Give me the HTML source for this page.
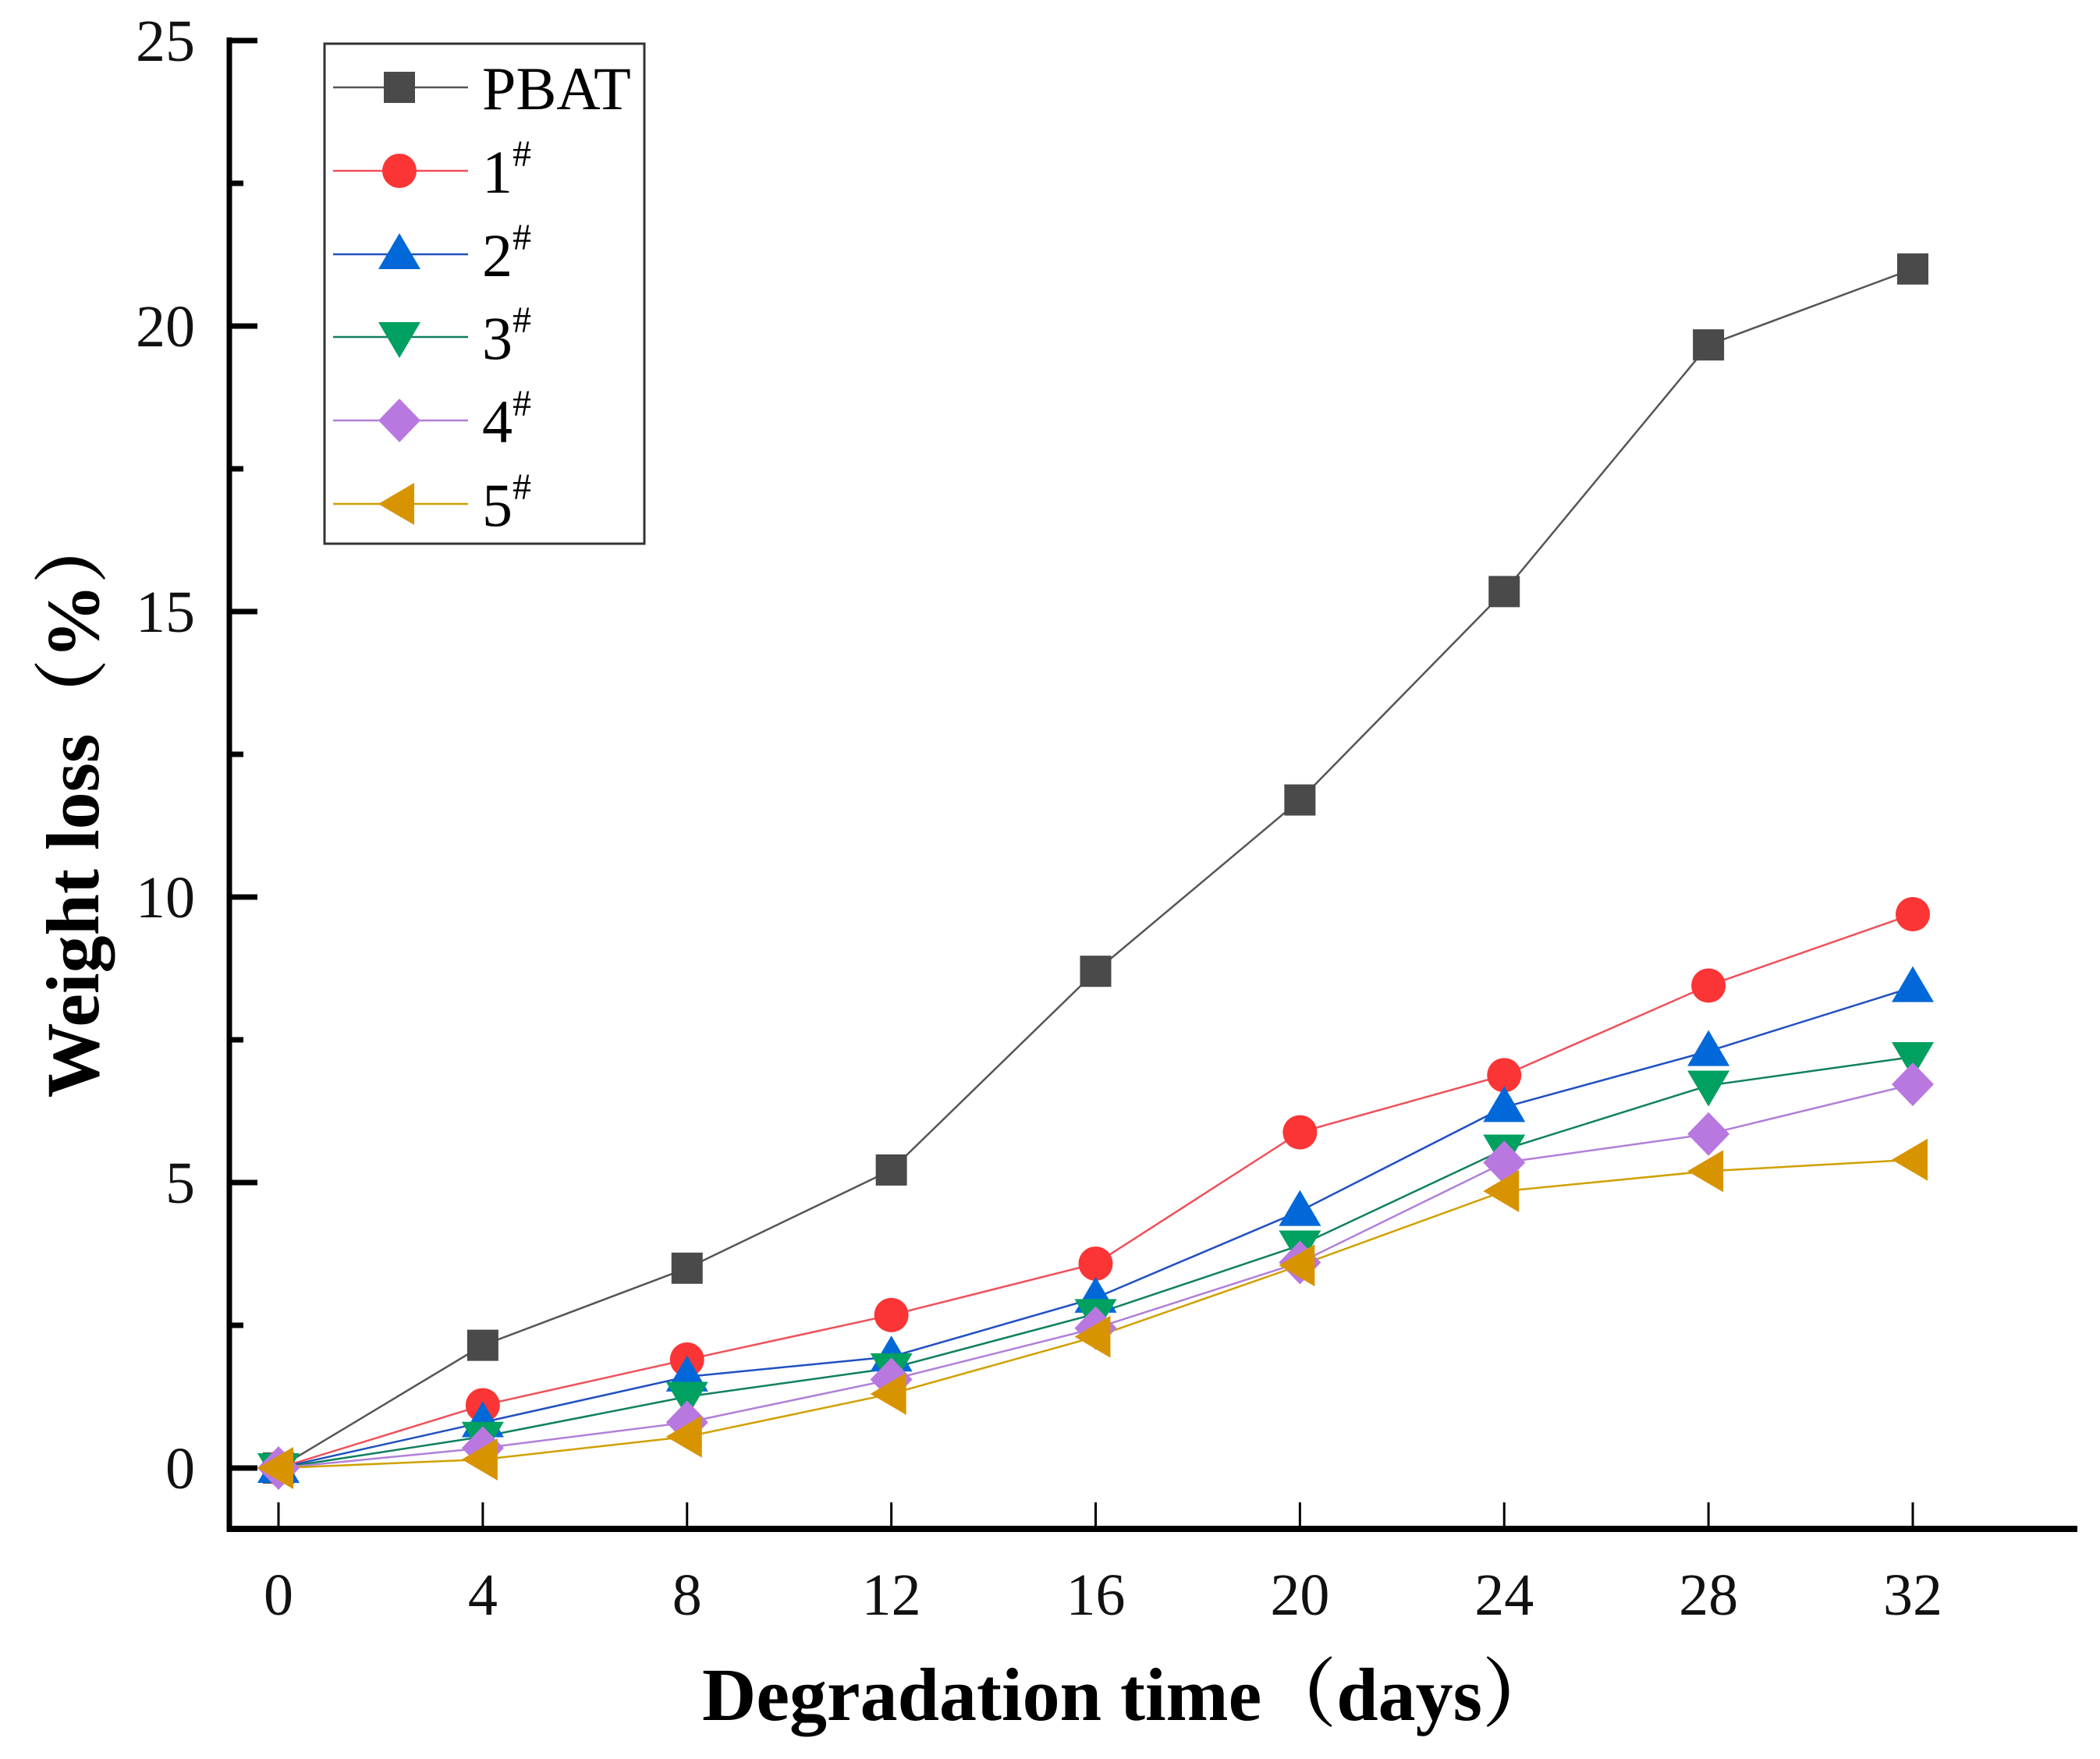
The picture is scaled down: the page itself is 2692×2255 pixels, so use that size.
<!DOCTYPE html>
<html><head><meta charset="utf-8"><style>
html,body{margin:0;padding:0;background:#fff;}
svg{display:block;}
text{font-family:"Liberation Serif","Noto Serif CJK SC",serif;}
</style></head><body>
<svg id="chart" width="2692" height="2255" viewBox="0 0 2692 2255" xmlns="http://www.w3.org/2000/svg">
<g id="grid"></g>
<g id="series"></g>
<g id="axes"></g>
<g id="legend"></g>
</svg>
<script>
const xValues = [0, 4, 8, 12, 16, 20, 24, 28, 32];
const xTicks = [0, 4, 8, 12, 16, 20, 24, 28, 32];
const yTicks = [0, 5, 10, 15, 20, 25];
const seriesNames = ["PBAT", "1", "2", "3", "4", "5"];
const pbat = [0, 2.15, 3.5, 5.22, 8.7, 11.7, 15.35, 19.67, 21.0];
const s1 = [0, 1.1, 1.9, 2.68, 3.58, 5.88, 6.88, 8.45, 9.7];
const s2 = [0, 0.8, 1.6, 1.95, 2.98, 4.5, 6.32, 7.3, 8.42];
const s3 = [0, 0.55, 1.25, 1.75, 2.7, 3.9, 5.58, 6.7, 7.2];
const s4 = [0, 0.35, 0.8, 1.55, 2.45, 3.6, 5.35, 5.85, 6.72];
const s5 = [0, 0.15, 0.55, 1.3, 2.3, 3.55, 4.85, 5.2, 5.4];

const NS = "http://www.w3.org/2000/svg";
const X0 = 357, X1 = 2452, Y0 = 1882, Y25 = 52;
const xs = v => X0 + (v - 0) * (X1 - X0) / 32;
const ys = v => Y0 - v * (Y0 - Y25) / 25;
function mk(tag, attrs, parent) {
  const e = document.createElementNS(NS, tag);
  for (const k in attrs) e.setAttribute(k, attrs[k]);
  parent.appendChild(e);
  return e;
}
const axes = document.getElementById('axes');
const seriesG = document.getElementById('series');
const legendG = document.getElementById('legend');

const styles = [
  {data: pbat, color: "#4a4a4a", line: "#555", shape: "square"},
  {data: s1, color: "#fb3535", line: "#f0505a", shape: "circle"},
  {data: s2, color: "#0068d8", line: "#2050c0", shape: "up"},
  {data: s3, color: "#00a060", line: "#108060", shape: "down"},
  {data: s4, color: "#b878e0", line: "#b080d8", shape: "diamond"},
  {data: s5, color: "#d89400", line: "#d0a000", shape: "left"}
];
function marker(shape, cx, cy, color, parent) {
  const r = 22;
  let e;
  if (shape === "square") e = mk('rect', {x: cx-20, y: cy-20, width: 40, height: 40, fill: color}, parent);
  else if (shape === "circle") e = mk('circle', {cx: cx, cy: cy, r: r, fill: color}, parent);
  else if (shape === "up") e = mk('polygon', {points: `${cx},${cy-27} ${cx+27},${cy+19} ${cx-27},${cy+19}`, fill: color}, parent);
  else if (shape === "down") e = mk('polygon', {points: `${cx},${cy+27} ${cx+27},${cy-19} ${cx-27},${cy-19}`, fill: color}, parent);
  else if (shape === "diamond") e = mk('polygon', {points: `${cx},${cy-28} ${cx+27},${cy} ${cx},${cy+28} ${cx-27},${cy}`, fill: color}, parent);
  else e = mk('polygon', {points: `${cx-27},${cy} ${cx+19},${cy-27} ${cx+19},${cy+27}`, fill: color}, parent);
  return e;
}
styles.forEach((s, i) => {
  const g = mk('g', {}, seriesG);
  
  
  const pts = s.data.map((v, j) => xs(xValues[j]) + ',' + ys(v)).join(' ');
  const pl = mk('polyline', {points: pts, fill: 'none', stroke: s.line, 'stroke-width': 2.5}, g);
  
  
});
styles.forEach((s, i) => {
  s.data.forEach((v, j) => {
    const m = marker(s.shape, xs(xValues[j]), ys(v), s.color, seriesG);
    
    
  });
});

// axes
const ya = mk('line', {x1: 294, y1: 48, x2: 294, y2: 1964, stroke: '#000', 'stroke-width': 7}, axes);


const xa = mk('line', {x1: 291, y1: 1960, x2: 2663, y2: 1960, stroke: '#000', 'stroke-width': 8}, axes);


yTicks.forEach(v => {
  const t = mk('line', {x1: 294, y1: ys(v), x2: 330, y2: ys(v), stroke: '#000', 'stroke-width': 7}, axes);
  
  
  if (v < 25) {
    const mt = mk('line', {x1: 294, y1: ys(v + 2.5), x2: 312, y2: ys(v + 2.5), stroke: '#000', 'stroke-width': 7}, axes);
    
    
  }
  const l = mk('text', {x: 250, y: ys(v) + 26, 'text-anchor': 'end', 'font-size': 76, fill: '#111'}, axes);
  l.textContent = v;
  
  
});
xTicks.forEach(v => {
  const t = mk('line', {x1: xs(v), y1: 1960, x2: xs(v), y2: 1926, stroke: '#000', 'stroke-width': 3}, axes);
  
  
  const l = mk('text', {x: xs(v), y: 2070, 'text-anchor': 'middle', 'font-size': 76, fill: '#111'}, axes);
  l.textContent = v;
  
  
});
const xt = mk('text', {x: 1448, y: 2205, 'text-anchor': 'middle', 'font-size': 96, 'font-weight': 'bold', fill: '#000'}, axes);
xt.textContent = 'Degradation time（days）';


const yt = mk('text', {x: 0, y: 0, 'text-anchor': 'middle', 'font-size': 96, 'font-weight': 'bold', fill: '#000', transform: 'translate(126,1030) rotate(-90)'}, axes);
yt.textContent = 'Weight loss（%）';



// legend
const box = mk('rect', {x: 416, y: 56, width: 410, height: 641, fill: '#fff', stroke: '#333', 'stroke-width': 3}, legendG);


const rowsY = [112, 219, 326, 432, 539, 646];
styles.forEach((s, i) => {
  const g = mk('g', {}, legendG);
  
  
  const y = rowsY[i];
  mk('line', {x1: 427, y1: y, x2: 600, y2: y, stroke: s.line, 'stroke-width': 2.5}, g);
  marker(s.shape, 512, y, s.color, g);
  const t = mk('text', {x: 618, y: y + 28, 'font-size': 78, fill: '#000'}, g);
  if (i === 0) t.textContent = 'PBAT';
  else {
    t.textContent = seriesNames[i];
    const sup = mk('tspan', {dy: -34, 'font-size': 48}, t);
    sup.textContent = '#';
  }
});
</script>
</body></html>
